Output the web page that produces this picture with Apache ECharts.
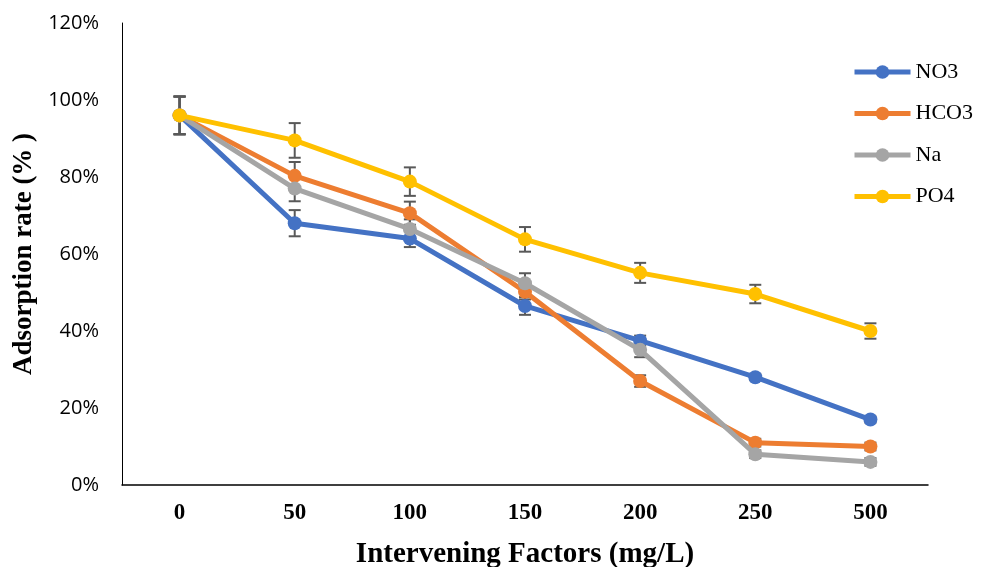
<!DOCTYPE html>
<html>
<head>
<meta charset="utf-8">
<script src="https://cdn.jsdelivr.net/npm/echarts@6/dist/echarts.min.js"></script>
<style>html,body{margin:0;padding:0;background:#fff}#c{width:987px;height:567px}</style>
</head>
<body>
<div id="c"></div>
<script>
const categories = ['0', '50', '100', '150', '200', '250', '500'];
const yTicks = [0, 20, 40, 60, 80, 100, 120];
const seriesNames = ['NO3', 'HCO3', 'Na', 'PO4'];
const no3 = [96, 68, 64, 46.5, 37.5, 28, 17];
const hco3 = [96, 80.3, 70.6, 50.2, 27, 11, 10];
const na = [96, 77, 66.5, 52.4, 35.1, 8, 6];
const po4 = [96, 89.5, 78.8, 63.8, 55.1, 49.6, 40];
const no3Err = [4.9, 3.4, 2.2, 2.3, 1.3, 0.8, 0.8];
const hco3Err = [4.9, 3.6, 3.0, 2.0, 1.5, 1.0, 1.0];
const naErr = [4.9, 3.3, 2.5, 2.6, 1.9, 1.0, 1.0];
const po4Err = [4.9, 4.5, 3.7, 3.2, 2.6, 2.4, 2.0];
const colors = ['#4472C4', '#ED7D31', '#A5A5A5', '#FFC000'];

const values = [no3, hco3, na, po4];
const errs = [no3Err, hco3Err, naErr, po4Err];

function errSeries(vals, err) {
  return {
    type: 'custom',
    z: 1,
    silent: true,
    data: vals.map((v, i) => [i, v, err[i]]),
    renderItem: function (params, api) {
      const x = api.value(0), v = api.value(1), e = api.value(2);
      const top = api.coord([x, v + e]);
      const bot = api.coord([x, v - e]);
      const w = 6;
      const st = { stroke: '#595959', lineWidth: 2 };
      return {
        type: 'group',
        children: [
          { type: 'line', shape: { x1: top[0], y1: top[1], x2: bot[0], y2: bot[1] }, style: st },
          { type: 'line', shape: { x1: top[0] - w, y1: top[1], x2: top[0] + w, y2: top[1] }, style: st },
          { type: 'line', shape: { x1: bot[0] - w, y1: bot[1], x2: bot[0] + w, y2: bot[1] }, style: st }
        ]
      };
    }
  };
}

const series = [];
for (let k = 0; k < 4; k++) series.push(errSeries(values[k], errs[k]));
for (let k = 0; k < 4; k++) {
  series.push({
    name: seriesNames[k],
    type: 'line',
    z: 3 + k,
    data: values[k],
    symbol: 'circle',
    symbolSize: 14,
    color: colors[k],
    lineStyle: { width: 5, color: colors[k] },
    itemStyle: { color: colors[k] }
  });
}

const chart = echarts.init(document.getElementById('c'));
chart.setOption({
  animation: false,
  backgroundColor: '#fff',
  grid: { left: 122, right: 59, top: 23, bottom: 82, outerBoundsMode: 'none', containLabel: false },
  legend: {
    data: seriesNames,
    orient: 'vertical',
    left: 852,
    top: 61,
    padding: 0,
    itemWidth: 56,
    itemHeight: 17,
    itemGap: 19.5,
    lineStyle: { width: 5 },
    textStyle: { fontFamily: 'Liberation Serif', fontSize: 22, color: '#000' }
  },
  xAxis: {
    type: 'category',
    data: categories,
    boundaryGap: true,
    axisLine: { lineStyle: { color: '#000', width: 1.5 } },
    axisTick: { show: false },
    axisLabel: { fontFamily: 'Liberation Serif', fontWeight: 'bold', fontSize: 23, color: '#000', margin: 17 },
    name: 'Intervening Factors (mg/L)',
    nameLocation: 'middle',
    nameGap: 55,
    nameTextStyle: { fontFamily: 'Liberation Serif', fontWeight: 'bold', fontSize: 29, color: '#000' }
  },
  yAxis: {
    type: 'value',
    min: yTicks[0],
    max: yTicks[yTicks.length - 1],
    interval: 20,
    axisLine: { show: true, lineStyle: { color: '#000', width: 1 } },
    axisTick: { show: false },
    splitLine: { show: false },
    axisLabel: { formatter: '{value}%', fontFamily: 'Open Sans', fontSize: 20, color: '#000', margin: 23 },
    name: 'Adsorption rate (% )',
    nameLocation: 'middle',
    nameGap: 80,
    nameTextStyle: { fontFamily: 'Liberation Serif', fontWeight: 'bold', fontSize: 27, color: '#000' }
  },
  series: series
});
</script>
</body>
</html>
